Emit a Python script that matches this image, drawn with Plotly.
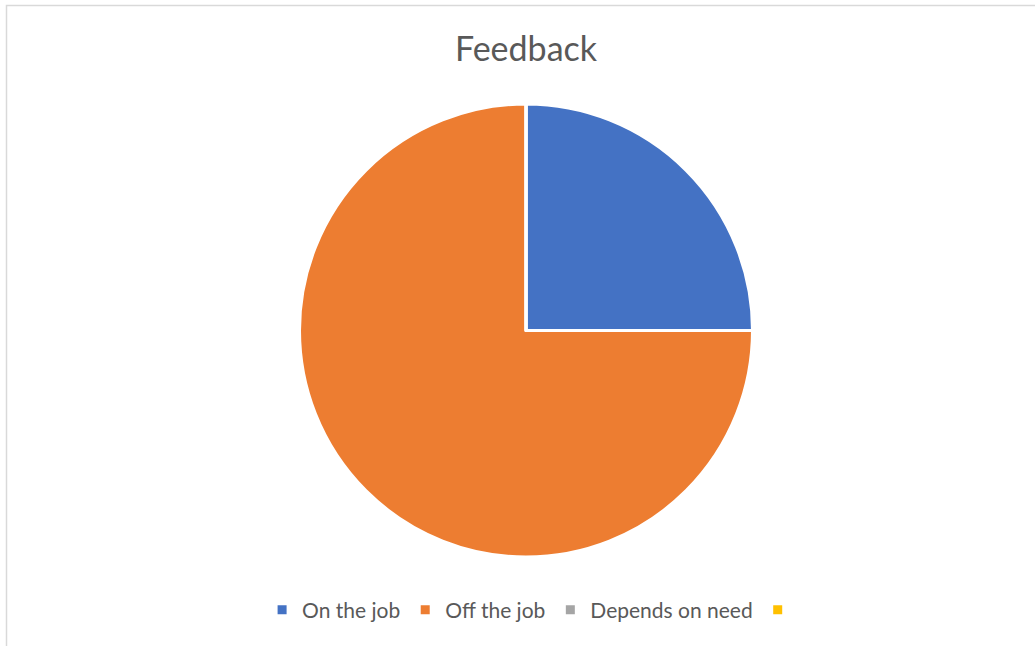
import plotly.graph_objects as go

labels = ["On the job", "Off the job", "Depends on need", " "]
values = [25, 75, 0, 0]
colors = ["#4472C4", "#ED7D31", "#A5A5A5", "#FFC000"]
title_text = "Feedback"

W, H = 1035, 646
cx, cy, r = 526, 330.5, 226.5

fig = go.Figure()
fig.add_trace(go.Pie(
    labels=labels,
    values=values,
    sort=False,
    direction="clockwise",
    rotation=0,
    textinfo="none",
    hoverinfo="label+value+percent",
    marker=dict(colors=colors, line=dict(color="white", width=3)),
    domain=dict(x=[(cx - r) / W, (cx + r) / W], y=[(H - cy - r) / H, (H - cy + r) / H]),
    showlegend=True,
))

fig.add_shape(type="rect", xref="paper", yref="paper",
              x0=6.5 / W, x1=1.05, y0=-0.05, y1=1 - 5.5 / H,
              line=dict(color="#D9D9D9", width=1.5), fillcolor="rgba(0,0,0,0)", layer="below")

fig.update_layout(
    width=W, height=H,
    margin=dict(l=0, r=0, t=0, b=0),
    paper_bgcolor="white",
    plot_bgcolor="white",
    font=dict(family="Lato, Open Sans, sans-serif", color="#595959"),
    title=dict(text=title_text, x=526 / W, xanchor="center", y=1 - 49 / H, yanchor="middle",
               font=dict(size=34, color="#595959", family="Lato, Open Sans, sans-serif")),
    legend=dict(orientation="h", x=0.517, xanchor="center", y=1 - 610 / H, yanchor="middle",
                font=dict(size=21, color="#595959"), traceorder="normal",
                itemwidth=30, entrywidth=0, bgcolor="rgba(0,0,0,0)"),
)

fig.write_html("out.html")
